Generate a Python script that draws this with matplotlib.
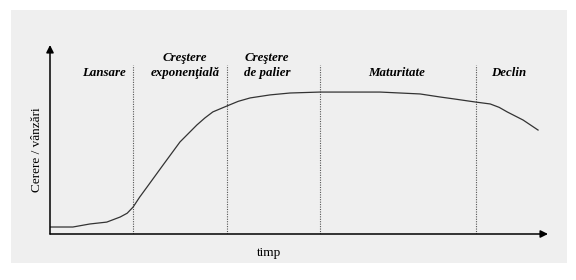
import matplotlib
matplotlib.use("Agg")
import matplotlib.pyplot as plt
from matplotlib.patches import Rectangle

# ciclul de viata al produsului (scara 0-100)
timp = [0, 4.6, 8.0, 11.4, 14.1, 15.5, 16.7, 18.0, 19.5, 22.7, 26.1, 29.5, 31.1,
        32.7, 35.5, 37.8, 40.2, 44.2, 48.2, 54.2, 66.3, 74.3, 78.3, 81.3, 85.5,
        88.4, 90.2, 91.8, 95.0, 98.0]
cerere = [3.7, 3.7, 5.3, 6.3, 9.0, 11.0, 14.3, 19.5, 24.9, 36.5, 48.7, 57.7, 61.4,
          64.6, 67.7, 70.2, 72.0, 73.6, 74.6, 75.1, 75.1, 74.1, 72.5, 71.4, 69.8,
          68.8, 67.0, 64.6, 60.3, 55.0]

limite = [16.7, 35.5, 54.2, 85.5]
etape = ["Lansare", "Creştere\nexponenţială", "Creştere\nde palier", "Maturitate", "Declin"]
pozitii_etape = [10.8, 27.1, 43.6, 69.7, 92.0]

W, H = 576, 280
fig = plt.figure(figsize=(W / 100, H / 100), dpi=100)
fig.patch.set_facecolor("white")
fig.patches.append(Rectangle((11 / W, 1 - 263 / H), 556 / W, 253 / H,
                             transform=fig.transFigure, facecolor="#efefef",
                             edgecolor="none", zorder=-10))

# axe: x de la 50 la 548 px, y de la 234 la 45 px
ax = fig.add_axes([50 / W, 1 - 234 / H, 498 / W, 189 / H])
ax.set_facecolor("none")
ax.set_xlim(0, 100)
ax.set_ylim(0, 100)
for s in ax.spines.values():
    s.set_visible(False)
ax.set_xticks([])
ax.set_yticks([])

ax.annotate("", xy=(100, 0), xytext=(0, 0),
            arrowprops=dict(arrowstyle="-|>", color="black", lw=1.1,
                            mutation_scale=11, shrinkA=0, shrinkB=0))
ax.annotate("", xy=(0, 100), xytext=(0, 0),
            arrowprops=dict(arrowstyle="-|>", color="black", lw=1.1,
                            mutation_scale=11, shrinkA=0, shrinkB=0))

ax.vlines(limite, 0, 89.4, colors="#555555", linestyles=(0, (1, 1.2)), lw=0.8)
ax.plot(timp, cerere, color="#333333", lw=0.9, solid_joinstyle="round")

serif = ["Liberation Serif", "DejaVu Serif"]
for x, txt in zip(pozitii_etape, etape):
    y = 89.2 if "\n" in txt else 85.2
    ax.text(x, y, txt, ha="center", va="center", family=serif, style="italic",
            weight="bold", fontsize=9.3, linespacing=1.3)

fig.text(269 / W, 1 - 253 / H, "timp", ha="center", va="center",
         family=serif, fontsize=9.5)
fig.text(37 / W, 1 - 150 / H, "Cerere / vânzări", ha="center", va="center",
         rotation=90, family=serif, fontsize=9.5)

fig.savefig("out.png", dpi=100)
